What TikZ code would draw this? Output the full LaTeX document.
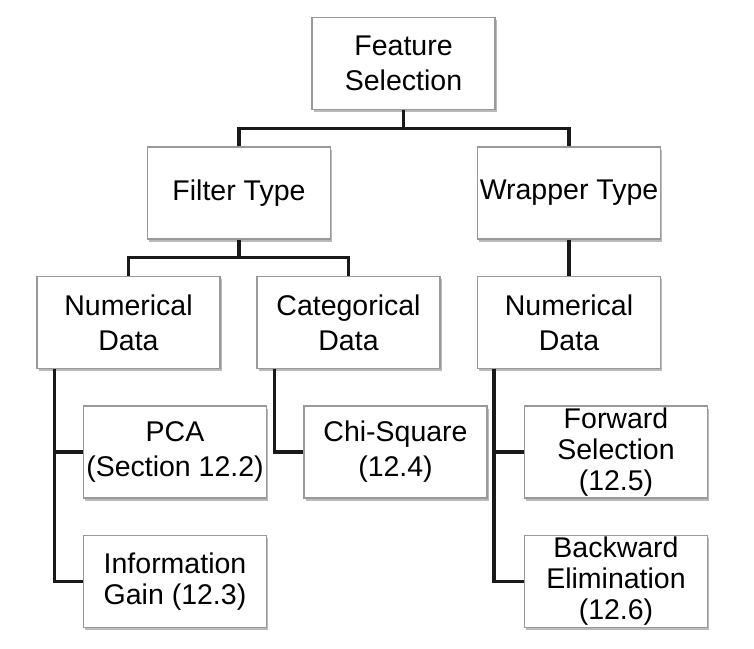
\documentclass[tikz,border=0pt]{standalone}
\usepackage{fontspec}
\setmainfont{Liberation Sans}
\usepackage{tikz}
\usetikzlibrary{shadows}

\begin{document}
\begin{tikzpicture}[x=1pt,y=-1pt,node distance=129.5pt,
    box/.style={draw=black!40,line width=1.2pt,fill=white,minimum width=183pt,minimum height=92pt,
      inner sep=0pt,align=center,font=\fontsize{28.5}{35}\selectfont,
      drop shadow={shadow xshift=1.5pt,shadow yshift=-2.5pt,fill=black!45,opacity=.6}},
    tallbox/.style={box,font=\fontsize{28.5}{31}\selectfont},
    link/.style={draw=black!90,line width=3.5pt,line join=miter}]
      \useasboundingbox (0,0) rectangle (754,648);

      \node[box] (NL)  at (128.5,322.5)                      {Numerical\\Data};
      \node[box] (CD)  [right of=NL,node distance=220pt]     {Categorical\\Data};
      \node[box] (NR)  [right of=CD,node distance=220.5pt]   {Numerical\\Data};
      \node[box] (FT)  [above of=NL,xshift=110.5pt]          {Filter Type};
      \node[box] (WT)  [above of=NR]                         {Wrapper Type};
      \node[box] (FS)  [above of=FT,xshift=164.5pt]          {Feature\\Selection};
      \node[box] (PCA) [below of=NL,xshift=46.5pt]           {PCA\\(Section 12.2)};
      \node[tallbox] (IG)  [below of=PCA]                    {Information\\Gain (12.3)};
      \node[box] (CS)  [below of=CD,xshift=47pt]             {Chi-Square\\(12.4)};
      \node[tallbox] (FW)  [below of=NR,xshift=47pt]         {Forward\\Selection\\(12.5)};
      \node[tallbox] (BW)  [below of=FW]                     {Backward\\Elimination\\(12.6)};

      \draw[link] (FS.south) -- ++(0,18.5) coordinate (j1);
      \draw[link] (FT.north) |- (j1) -| (WT.north);
      \draw[link] (FT.south) -- ++(0,18) coordinate (j2);
      \draw[link] (NL.north) |- (j2) -| (CD.north);
      \draw[link] (WT.south) -- (NR.north);

      \draw[link] ([xshift=18pt]NL.south west) |- (PCA.west);
      \draw[link] ([xshift=18pt]NL.south west) |- (IG.west);
      \draw[link] ([xshift=18pt]CD.south west) |- (CS.west);
      \draw[link] ([xshift=17pt]NR.south west) |- (FW.west);
      \draw[link] ([xshift=17pt]NR.south west) |- (BW.west);
\end{tikzpicture}
\end{document}
